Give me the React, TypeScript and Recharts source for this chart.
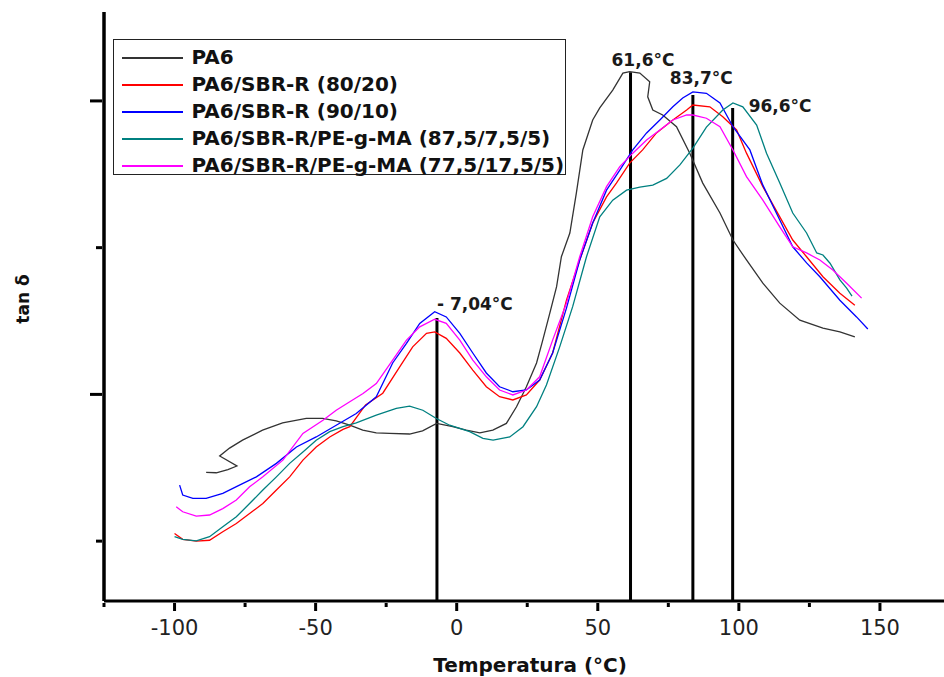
import React from 'react'
import { LineChart, Line, XAxis, YAxis, ReferenceLine } from 'recharts'

// [temperature °C, tan δ]
const pa6: [number, number][] = [
  [-88.8, 0.0734], [-85.2, 0.0733], [-81.1, 0.0744], [-77.9, 0.0756], [-84.0, 0.079], [-80.5, 0.0817],
  [-75.9, 0.0844], [-68.8, 0.0878], [-61.7, 0.0903], [-53.3, 0.0918], [-47.5, 0.0918], [-42.7, 0.091],
  [-37.9, 0.0895], [-33.3, 0.0878], [-28.5, 0.0869], [-23.8, 0.0867], [-16.7, 0.0865], [-12.1, 0.0876],
  [-7.1, 0.0901], [-1.4, 0.089], [3.4, 0.0878], [8.2, 0.0869], [12.8, 0.0878], [17.6, 0.0901],
  [21.2, 0.0958], [24.7, 0.1026], [28.3, 0.1107], [30.5, 0.1185], [33.0, 0.1277], [35.4, 0.1367],
  [37.1, 0.1469], [40.1, 0.155], [42.4, 0.1686], [44.7, 0.1833], [48.2, 0.1935], [50.7, 0.1976],
  [55.3, 0.2037], [58.9, 0.2095], [61.3, 0.21], [64.9, 0.2095], [68.4, 0.2065], [67.7, 0.2014],
  [69.5, 0.1969], [73.0, 0.1952], [77.9, 0.1912], [82.6, 0.1822], [87.2, 0.172], [93.3, 0.1618],
  [97.9, 0.1526], [102.7, 0.1458], [108.5, 0.1379], [114.5, 0.1311], [121.6, 0.1253], [129.8, 0.1226],
  [135.8, 0.1213], [141.1, 0.1196],
]

const sbr8020: [number, number][] = [
  [-100, 0.0526], [-97.1, 0.0506], [-92.3, 0.05], [-87.6, 0.0503], [-82.9, 0.0532], [-78.1, 0.056],
  [-73.4, 0.0594], [-68.7, 0.0628], [-63.9, 0.0674], [-59.2, 0.0719], [-54.5, 0.0776], [-49.8, 0.0821],
  [-45.0, 0.0855], [-40.3, 0.0881], [-37.9, 0.089], [-32.3, 0.0964], [-26.2, 0.1004], [-20.2, 0.1094],
  [-15.6, 0.1162], [-10.7, 0.1208], [-7.8, 0.1213], [-3.7, 0.1191], [1.1, 0.1141], [5.7, 0.1083],
  [10.5, 0.1026], [15.2, 0.0992], [19.9, 0.0981], [24.7, 0.0998], [29.4, 0.1049], [34.0, 0.1141],
  [38.9, 0.1321], [43.6, 0.1458], [48.2, 0.1584], [53.1, 0.1673], [56.6, 0.172], [61.3, 0.1788],
  [65.9, 0.1833], [70.8, 0.1891], [76.6, 0.1935], [81.5, 0.1969], [83.7, 0.1986], [89.7, 0.198],
  [94.3, 0.1946], [99.2, 0.1901], [102.7, 0.1822], [108.5, 0.1708], [114.5, 0.1605], [119.1, 0.1526],
  [124.0, 0.1469], [129.8, 0.1401], [135.8, 0.1345], [141.1, 0.1304],
]

const sbr9010: [number, number][] = [
  [-98.2, 0.0691], [-97.1, 0.0657], [-93.5, 0.0646], [-88.8, 0.0646], [-82.9, 0.0663], [-77.0, 0.0691],
  [-71.0, 0.0719], [-63.9, 0.0765], [-56.8, 0.0821], [-49.8, 0.0855], [-42.7, 0.0895], [-35.6, 0.0935],
  [-28.5, 0.0992], [-22.7, 0.1107], [-17.8, 0.1174], [-13.1, 0.1242], [-7.8, 0.1282], [-3.7, 0.1264],
  [1.1, 0.1208], [5.7, 0.1141], [10.5, 0.1073], [15.2, 0.1026], [19.9, 0.1009], [24.7, 0.1015],
  [29.4, 0.1049], [34.0, 0.1141], [38.9, 0.1294], [43.6, 0.1458], [48.2, 0.1584], [53.1, 0.1696],
  [57.8, 0.1764], [62.4, 0.1833], [67.3, 0.1891], [72.0, 0.1935], [76.6, 0.198], [80.1, 0.201],
  [83.7, 0.2031], [88.5, 0.2026], [93.3, 0.1993], [97.9, 0.1912], [103.9, 0.1833], [108.5, 0.1713],
  [114.5, 0.1594], [119.1, 0.1503], [124.0, 0.1448], [128.7, 0.1401], [135.8, 0.1321], [141.7, 0.1264],
  [145.7, 0.1223],
]

const peg875: [number, number][] = [
  [-100, 0.0515], [-97.1, 0.0506], [-92.3, 0.0501], [-87.6, 0.0515], [-82.9, 0.0549], [-78.1, 0.0583],
  [-73.4, 0.0628], [-68.7, 0.0674], [-63.9, 0.0719], [-59.2, 0.0765], [-54.5, 0.0804], [-49.8, 0.0844],
  [-45.0, 0.0873], [-40.3, 0.089], [-35.6, 0.0903], [-28.5, 0.0929], [-21.4, 0.0952], [-16.7, 0.096],
  [-12.0, 0.0946], [-7.2, 0.0918], [-2.5, 0.0895], [4.6, 0.0873], [9.3, 0.085], [12.9, 0.0844],
  [18.8, 0.0855], [23.5, 0.089], [28.3, 0.0958], [31.8, 0.1032], [36.5, 0.1162], [41.1, 0.1299],
  [46.0, 0.1469], [50.7, 0.1605], [55.3, 0.1662], [60.2, 0.1696], [64.9, 0.1706], [69.5, 0.1713],
  [74.4, 0.1736], [79.1, 0.1782], [83.7, 0.1839], [88.5, 0.1911], [94.3, 0.1969], [97.9, 0.1993],
  [101.4, 0.198], [106.3, 0.1918], [109.8, 0.1822], [114.5, 0.172], [119.1, 0.1618], [124.0, 0.155],
  [127.6, 0.1482], [129.8, 0.1475], [132.3, 0.1447], [135.8, 0.139], [138.2, 0.1362], [140.1, 0.1335],
]

const peg775: [number, number][] = [
  [-99.4, 0.0617], [-97.1, 0.06], [-92.3, 0.0585], [-87.6, 0.0589], [-82.9, 0.0611], [-78.1, 0.064],
  [-73.4, 0.0685], [-68.7, 0.0719], [-61.6, 0.0776], [-54.5, 0.0867], [-47.4, 0.0912], [-42.7, 0.0946],
  [-37.9, 0.0975], [-33.2, 0.1003], [-28.5, 0.1037], [-22.7, 0.1117], [-17.8, 0.1185], [-13.1, 0.123],
  [-7.8, 0.1256], [-3.7, 0.1242], [1.1, 0.1185], [5.7, 0.1117], [10.5, 0.106], [15.2, 0.1015],
  [19.9, 0.0998], [24.7, 0.1015], [29.4, 0.106], [34.0, 0.1185], [38.9, 0.1311], [43.6, 0.1469],
  [48.2, 0.1605], [53.1, 0.1708], [57.8, 0.1776], [62.4, 0.1822], [67.3, 0.1867], [72.0, 0.1901],
  [76.6, 0.1935], [81.5, 0.1952], [83.7, 0.1952], [88.5, 0.1941], [93.3, 0.1912], [97.9, 0.1833],
  [102.7, 0.1742], [108.5, 0.1662], [114.5, 0.1571], [119.1, 0.1503], [124.0, 0.1482], [128.7, 0.1458],
  [133.3, 0.1424], [138.2, 0.1379], [143.5, 0.1328],
]

const seriesNames = [
  'PA6',
  'PA6/SBR-R (80/20)',
  'PA6/SBR-R (90/10)',
  'PA6/SBR-R/PE-g-MA (87,5/7,5/5)',
  'PA6/SBR-R/PE-g-MA (77,5/17,5/5)',
]
const seriesColors = ['#333333', '#ff0000', '#0000ff', '#008080', '#ff00ff']
const seriesData = [pa6, sbr8020, sbr9010, peg875, peg775]

const peakTemps = [-7.0, 61.6, 83.7, 97.8]
const peakTops = [0.126, 0.2098, 0.202, 0.1976]
const peakLabels = ['- 7,04°C', '61,6°C', '83,7°C', '96,6°C']
const peakLabelOffsets = [[0, -8], [-19, -6], [-23, -11], [16, 4]]

const xTicks = [-125, -100, -75, -50, -25, 0, 25, 50, 75, 100, 125, 150]
const yTicks = [0.05, 0.1, 0.15, 0.2]
const xDomain: [number, number] = [-125, 172.7]
const yDomain: [number, number] = [0.0296, 0.2303]

const FONT = '"DejaVu Sans", Verdana, sans-serif'

function XTick(props: any) {
  const { x, y, payload } = props
  const major = payload.value % 50 === 0
  return (
    <g>
      <line x1={x} x2={x} y1={y} y2={y + (major ? 8 : 4)} stroke="#000" strokeWidth={3} />
      {major && (
        <text x={x} y={y + 32} textAnchor="middle" fontFamily={FONT} fontSize={21} fill="#222">
          {payload.value}
        </text>
      )}
    </g>
  )
}

function YTick(props: any) {
  const { x, y, payload } = props
  const major = Math.abs((payload.value * 10) % 1) < 1e-6 || Math.abs((payload.value * 10) % 1 - 1) < 1e-6
  return <line x1={x} x2={x - (major ? 12 : 6)} y1={y} y2={y} stroke="#000" strokeWidth={3} />
}

export default function App() {
  return (
    <div style={{ position: 'absolute', left: 0, top: 0, width: 944, height: 677, background: '#fff' }}>
      <LineChart width={944} height={677} margin={{ top: 12, right: 0, bottom: 0, left: 103 }}>
        <XAxis
          type="number"
          dataKey="t"
          domain={xDomain}
          allowDataOverflow
          ticks={xTicks}
          interval={0}
          height={76}
          tickSize={0}
          tickLine={false}
          tick={XTick}
          axisLine={{ stroke: '#000', strokeWidth: 3 }}
          label={(p: any) => (
            <text
              x={p.viewBox.x + p.viewBox.width / 2 + 6}
              y={p.viewBox.y + 71}
              textAnchor="middle"
              fontFamily={FONT}
              fontWeight="bold"
              fontSize={20}
              fill="#111"
            >
              Temperatura (°C)
            </text>
          )}
        />
        <YAxis
          type="number"
          domain={yDomain}
          allowDataOverflow
          ticks={yTicks}
          interval={0}
          width={1}
          tickSize={0}
          tickLine={false}
          tick={YTick}
          axisLine={{ stroke: '#000', strokeWidth: 3.5 }}
          label={() => (
            <text
              x={23}
              y={299}
              transform="rotate(-90 23 299)"
              textAnchor="middle"
              dominantBaseline="central"
              fontFamily={FONT}
              fontWeight="bold"
              fontSize={17}
              fill="#111"
            >
              tan δ
            </text>
          )}
        />
        {peakTemps.map((t, i) => (
          <ReferenceLine
            key={'peak' + i}
            segment={[{ x: t, y: yDomain[0] }, { x: t, y: peakTops[i] }]}
            stroke="#000"
            strokeWidth={3}
            label={(p: any) => (
              <text
                x={p.viewBox.x + peakLabelOffsets[i][0]}
                y={p.viewBox.y + peakLabelOffsets[i][1]}
                textAnchor="start"
                fontFamily={FONT}
                fontWeight="bold"
                fontSize={17}
                fill="#1a1a1a"
              >
                {peakLabels[i]}
              </text>
            )}
          />
        ))}
        {seriesData.map((s, i) => (
          <Line
            key={seriesNames[i]}
            data={s.map(([t, v]) => ({ t, v }))}
            dataKey="v"
            name={seriesNames[i]}
            type="linear"
            stroke={seriesColors[i]}
            strokeWidth={1.3}
            dot={false}
            isAnimationActive={false}
          />
        ))}
      </LineChart>
      <div
        style={{
          position: 'absolute',
          left: 113,
          top: 39,
          width: 453,
          height: 136,
          border: '1.5px solid #222',
          boxSizing: 'border-box',
          paddingTop: 4,
          background: '#fff',
        }}
      >
        {seriesNames.map((n, i) => (
          <div key={n} style={{ display: 'flex', alignItems: 'center', height: 27 }}>
            <div style={{ marginLeft: 7.5, width: 61, height: 2, background: seriesColors[i], flexShrink: 0 }} />
            <span
              style={{
                marginLeft: 9,
                fontFamily: FONT,
                fontWeight: 'bold',
                fontSize: 20,
                color: '#111',
                whiteSpace: 'nowrap',
                lineHeight: '27px',
              }}
            >
              {n}
            </span>
          </div>
        ))}
      </div>
    </div>
  )
}
